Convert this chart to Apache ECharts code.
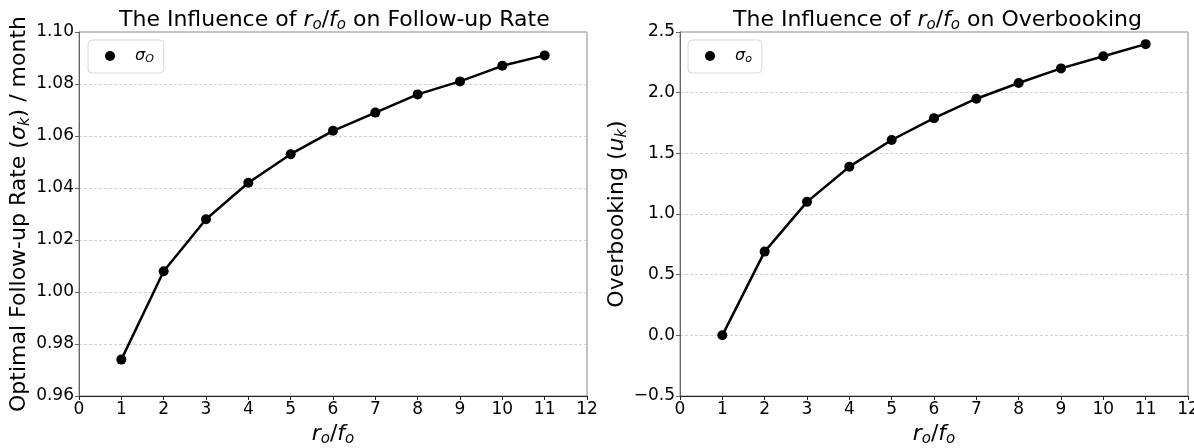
<!DOCTYPE html>
<html>
<head>
<meta charset="utf-8">
<script src="https://cdn.jsdelivr.net/npm/echarts@6/dist/echarts.min.js"></script>
<style>
  html, body { margin: 0; padding: 0; background: #fff; }
  #main { width: 1194px; height: 448px; }
</style>
</head>
<body>
<div id="main"></div>
<script>
// ratio r_o / f_o
const ratios = [1, 2, 3, 4, 5, 6, 7, 8, 9, 10, 11];
// optimal follow-up rate per month
const followUpRate = [0.974, 1.008, 1.028, 1.042, 1.053, 1.062, 1.069, 1.076, 1.081, 1.087, 1.091];
// overbooking
const overbooking = [0.0, 0.69, 1.10, 1.39, 1.61, 1.79, 1.95, 2.08, 2.20, 2.30, 2.40];

const font = 'DejaVu Sans';
const mkRich = (size, subSize, pad) => ({
  n: { fontFamily: font, fontSize: size, fontWeight: 'normal', color: '#000' },
  i: { fontFamily: font, fontSize: size, fontWeight: 'normal', fontStyle: 'italic', color: '#000' },
  s: { fontFamily: font, fontSize: subSize, fontWeight: 'normal', fontStyle: 'italic', color: '#000', padding: [pad, 0, 0, 0] }
});
const richTitle = mkRich(22, 15, 10);
const richName = mkRich(22, 15, 10);
const richLegend = mkRich(16, 11, 7);

const pairs = (ys) => ratios.map((x, i) => [x, ys[i]]);

const xAxisBase = (gridIndex) => ({
  type: 'value',
  gridIndex: gridIndex,
  min: 0,
  max: 12,
  interval: 1,
  name: '{i|r}{s|o}{n|/}{i|f}{s|o}',
  nameLocation: 'middle',
  nameGap: 26,
  nameTextStyle: { fontSize: 22, rich: richName },
  axisLine: { onZero: false, lineStyle: { color: '#222', width: 1 } },
  axisTick: { show: true, length: 4, lineStyle: { color: '#222' } },
  axisLabel: { fontFamily: font, fontSize: 17, color: '#000', margin: 5 },
  splitLine: { show: false }
});

const yAxisBase = (gridIndex) => ({
  type: 'value',
  gridIndex: gridIndex,
  nameLocation: 'middle',
  nameTextStyle: { fontSize: 22, rich: richName },
  axisLine: { show: true, onZero: false, lineStyle: { color: '#666' } },
  axisTick: { show: true, length: 4, lineStyle: { color: '#666' } },
  splitLine: { show: true, lineStyle: { color: '#c4c4c4', type: [3, 2], width: 0.8 } }
});

const legendBase = (name, label, left) => ({
  data: [name],
  left: left, top: 40,
  icon: 'circle',
  itemWidth: 10, itemHeight: 10,
  padding: [8, 10, 8, 17],
  borderColor: '#d8d8d8', borderWidth: 1, borderRadius: 4,
  formatter: () => label,
  textStyle: { fontSize: 16, rich: richLegend, padding: [0, 0, 0, 15] }
});

const option = {
  animation: false,
  backgroundColor: '#fff',
  title: [
    {
      text: '{n|The Influence of }{i|r}{s|o}{n|/}{i|f}{s|o}{n| on Follow-up Rate}',
      left: 114, top: 3,
      textStyle: { fontSize: 22, fontWeight: 'normal', rich: richTitle }
    },
    {
      text: '{n|The Influence of }{i|r}{s|o}{n|/}{i|f}{s|o}{n| on Overbooking}',
      left: 728, top: 3,
      textStyle: { fontSize: 22, fontWeight: 'normal', rich: richTitle }
    }
  ],
  legend: [
    legendBase('sigmaO', '{i|σ}{s|O}', 88),
    legendBase('sigmao', '{i|σ}{s|o}', 688)
  ],
  grid: [
    { left: 79, right: 607, top: 32, bottom: 52, show: true, borderColor: '#888', borderWidth: 1, outerBoundsMode: 'none', containLabel: false },
    { left: 680, right: 6, top: 32, bottom: 52, show: true, borderColor: '#888', borderWidth: 1, outerBoundsMode: 'none', containLabel: false }
  ],
  xAxis: [xAxisBase(0), xAxisBase(1)],
  yAxis: [
    Object.assign(yAxisBase(0), {
      min: 0.96,
      max: 1.10,
      interval: 0.02,
      name: '{n|Optimal Follow-up Rate (}{i|σ}{s|k}{n|) / month}',
      nameGap: 46,
      axisLabel: { fontFamily: font, fontSize: 17, color: '#000', margin: 5, formatter: (v) => v.toFixed(2) }
    }),
    Object.assign(yAxisBase(1), {
      min: -0.5,
      max: 2.5,
      interval: 0.5,
      name: '{n|Overbooking (}{i|u}{s|k}{n|)}',
      nameGap: 42,
      axisLabel: { fontFamily: font, fontSize: 17, color: '#000', margin: 5, formatter: (v) => v.toFixed(1).replace('-', '\u2212') }
    })
  ],
  series: [
    {
      name: 'sigmaO',
      type: 'line',
      xAxisIndex: 0,
      yAxisIndex: 0,
      data: pairs(followUpRate),
      symbol: 'circle',
      symbolSize: 10,
      itemStyle: { color: '#000' },
      lineStyle: { color: '#000', width: 2.5 }
    },
    {
      name: 'sigmao',
      type: 'line',
      xAxisIndex: 1,
      yAxisIndex: 1,
      data: pairs(overbooking),
      symbol: 'circle',
      symbolSize: 10,
      itemStyle: { color: '#000' },
      lineStyle: { color: '#000', width: 2.5 }
    }
  ]
};

const myChart = echarts.init(document.getElementById('main'));
myChart.setOption(option);
</script>
</body>
</html>
